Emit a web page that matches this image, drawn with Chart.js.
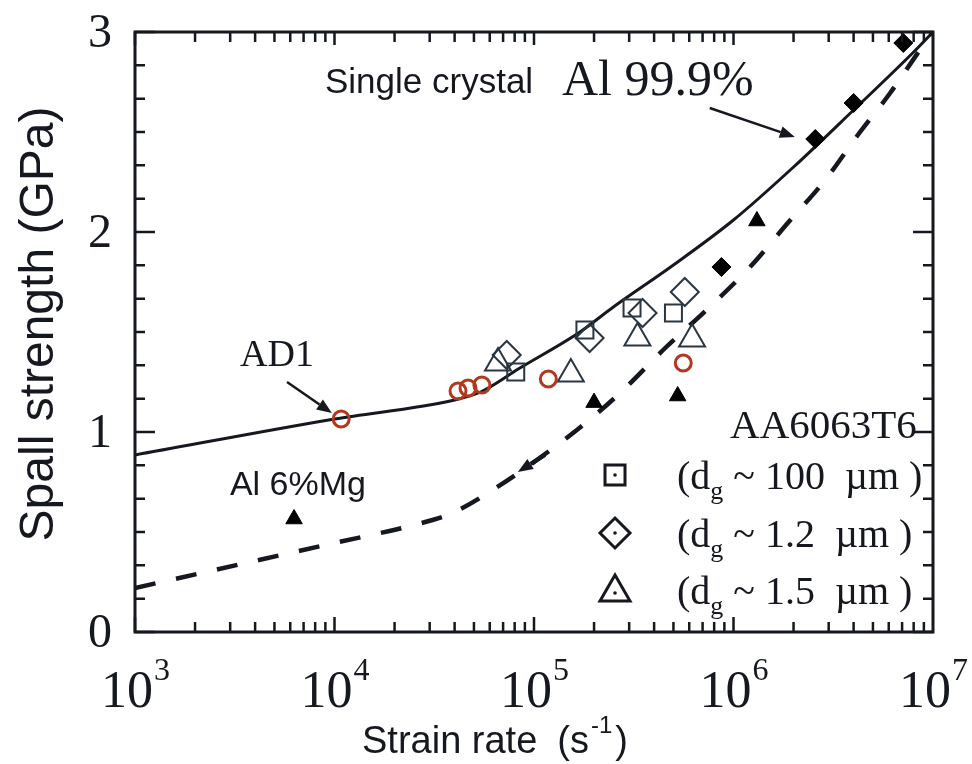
<!DOCTYPE html>
<html>
<head>
<meta charset="utf-8">
<script src="https://cdn.jsdelivr.net/npm/chart.js@4.4.0/dist/chart.umd.min.js"></script>
<style>
  body { margin: 0; background: #fff; }
  canvas { display: block; }
</style>
</head>
<body>
<canvas id="spallChart" width="972" height="764"></canvas>
<script>
// strain rate (1/s) and spall strength (GPa)
const ad1Rate = [1.08e4, 4.16e4, 4.67e4, 5.48e4, 1.18e5, 5.6e5];
const ad1Spall = [1.065, 1.205, 1.22, 1.235, 1.265, 1.345];

const al999Rate = [8.7e5, 2.57e6, 4.0e6, 7.1e6];
const al999Spall = [1.825, 2.465, 2.645, 2.945];

const alMgRate = [6.27e3, 2.0e5, 5.25e5, 1.31e6];
const alMgSpall = [0.565, 1.147, 1.18, 2.055];

const dg100Rate = [8.1e4, 1.8e5, 3.1e5, 5.0e5];
const dg100Spall = [1.30, 1.51, 1.62, 1.595];

const dg12Rate = [7.3e4, 1.9e5, 3.5e5, 5.7e5];
const dg12Spall = [1.385, 1.47, 1.595, 1.70];

const dg15Rate = [6.6e4, 1.53e5, 3.3e5, 6.2e5];
const dg15Spall = [1.345, 1.29, 1.47, 1.465];

// fitted curves
const singleRate = [1e3, 1e4, 4e4, 5.4e4, 8.5e4, 1.7e5, 2.5e5, 5e5, 1e6, 2e6, 4e6, 8e6, 1e7];
const singleSpall = [0.885, 1.065, 1.16, 1.2, 1.32, 1.50, 1.625, 1.835, 2.06, 2.325, 2.61, 2.9, 3.0];

const alloyRate = [1e3, 1e4, 2.5e4, 3.8e4, 6.2e4, 1.64e5, 2.7e5, 4.6e5, 7.5e5, 1.21e6, 1.87e6, 2.88e6, 4.2e6, 6.1e6, 8.6e6, 1e7];
const alloySpall = [0.22, 0.445, 0.535, 0.59, 0.71, 1.01, 1.195, 1.425, 1.62, 1.825, 2.045, 2.26, 2.485, 2.695, 2.91, 3.0];

// axes
const xMajorTicks = [1e3, 1e4, 1e5, 1e6, 1e7];
const xTickExps = ['3', '4', '5', '6', '7'];
const yMajorTicks = [0, 1, 2, 3];
const yMinorPerUnit = 6;

const legendLabels = ['100', '1.2', '1.5'];

const SERIF = '"Liberation Serif", "Times New Roman", serif';
const SANS = '"Liberation Sans", Arial, sans-serif';
const INK = '#15181f';
const OPEN = '#2a3640';
const RED = '#b03a1e';

function toPoints(xs, ys) {
    return xs.map((v, i) => ({ x: v, y: ys[i] }));
}

function drawArrow(ctx, x1, y1, x2, y2) {
    const ang = Math.atan2(y2 - y1, x2 - x1);
    const head = 15, half = 6;
    const bx = x2 - head * Math.cos(ang), by = y2 - head * Math.sin(ang);
    ctx.beginPath();
    ctx.moveTo(x1, y1);
    ctx.lineTo(bx, by);
    ctx.stroke();
    ctx.beginPath();
    ctx.moveTo(x2, y2);
    ctx.lineTo(bx + half * Math.sin(ang), by - half * Math.cos(ang));
    ctx.lineTo(bx - half * Math.sin(ang), by + half * Math.cos(ang));
    ctx.closePath();
    ctx.fill();
}

// frame, inward ticks, tick labels, titles
const axisFrame = {
    id: 'axisFrame',
    afterDraw(chart) {
        const { ctx, chartArea: a, scales: { x, y } } = chart;
        ctx.save();
        ctx.strokeStyle = INK;
        ctx.fillStyle = INK;
        ctx.lineCap = 'butt';

        ctx.lineWidth = 2.5;
        // x ticks (log decades)
        for (let d = 0; d < xMajorTicks.length - 1; d++) {
            for (let m = 1; m < 10; m++) {
                const px = x.getPixelForValue(xMajorTicks[d] * m);
                const len = m === 1 ? 15 : 10;
                ctx.beginPath();
                ctx.moveTo(px, a.bottom); ctx.lineTo(px, a.bottom - len);
                ctx.moveTo(px, a.top); ctx.lineTo(px, a.top + (m === 1 ? 13 : 10));
                ctx.stroke();
            }
        }
        // y ticks
        const yMax = yMajorTicks[yMajorTicks.length - 1];
        for (let i = 0; i <= yMax * yMinorPerUnit; i++) {
            const py = y.getPixelForValue(i / yMinorPerUnit);
            const len = i % yMinorPerUnit === 0 ? 20 : 10;
            ctx.beginPath();
            ctx.moveTo(a.left, py); ctx.lineTo(a.left + len, py);
            ctx.moveTo(a.right, py); ctx.lineTo(a.right - len, py);
            ctx.stroke();
        }

        ctx.lineWidth = 3;
        ctx.strokeRect(a.left, a.top, a.right - a.left, a.bottom - a.top);

        // x tick labels 10^n
        ctx.textBaseline = 'alphabetic';
        ctx.textAlign = 'left';
        xMajorTicks.forEach((v, i) => {
            const px = x.getPixelForValue(v);
            ctx.font = `52px ${SERIF}`;
            const w1 = ctx.measureText('10').width;
            ctx.font = `32px ${SERIF}`;
            const w2 = ctx.measureText(xTickExps[i]).width;
            const left = px - (w1 + w2) / 2;
            ctx.font = `52px ${SERIF}`;
            ctx.fillText('10', left, a.bottom + 75);
            ctx.font = `32px ${SERIF}`;
            ctx.fillText(xTickExps[i], left + w1 + 1, a.bottom + 48);
        });

        // y tick labels
        ctx.textAlign = 'right';
        ctx.font = `48px ${SERIF}`;
        yMajorTicks.forEach(v => {
            ctx.fillText(String(v), a.left - 23, y.getPixelForValue(v) + 15);
        });

        // x title
        ctx.textAlign = 'left';
        ctx.font = `38px ${SANS}`;
        let tx = a.left + 227;
        const tb = a.bottom + 121;
        ctx.fillText('Strain rate', tx, tb);
        tx += ctx.measureText('Strain rate').width + 20;
        ctx.fillText('(s', tx, tb);
        tx += ctx.measureText('(s').width + 2;
        ctx.font = `24px ${SANS}`;
        ctx.fillText('-1', tx, tb - 20);
        tx += ctx.measureText('-1').width + 3;
        ctx.font = `38px ${SANS}`;
        ctx.fillText(')', tx, tb);

        // y title
        ctx.save();
        ctx.translate(a.left - 82, (a.top + a.bottom) / 2 - 8);
        ctx.rotate(-Math.PI / 2);
        ctx.textAlign = 'center';
        ctx.font = `48px ${SANS}`;
        ctx.fillText('Spall strength (GPa)', 0, 0);
        ctx.restore();

        ctx.restore();
    }
};

// labels, arrows and the marker key
const notes = {
    id: 'notes',
    afterDraw(chart) {
        const { ctx, chartArea: a, scales: { x, y } } = chart;
        const P = (vx, vy) => [x.getPixelForValue(vx), y.getPixelForValue(vy)];
        ctx.save();
        ctx.fillStyle = INK;
        ctx.strokeStyle = INK;
        ctx.textAlign = 'left';
        ctx.textBaseline = 'alphabetic';

        let p = P(8.96e3, 2.695);
        ctx.font = `35px ${SANS}`;
        ctx.fillText('Single crystal', p[0], p[1]);
        p = P(1.38e5, 2.685);
        ctx.font = `50px ${SERIF}`;
        ctx.fillText('Al 99.9%', p[0], p[1]);
        p = P(3.36e3, 1.33);
        ctx.font = `38px ${SERIF}`;
        ctx.fillText('AD1', p[0], p[1]);
        p = P(2.99e3, 0.685);
        ctx.font = `34px ${SANS}`;
        ctx.fillText('Al 6%Mg', p[0], p[1]);
        p = P(8.3e6, 0.97);
        ctx.textAlign = 'right';
        ctx.font = `41px ${SERIF}`;
        ctx.fillText('AA6063T6', p[0], p[1]);
        ctx.textAlign = 'left';

        ctx.lineWidth = 2.5;
        let s = P(7.6e5, 2.62), e = P(2.03e6, 2.475);
        drawArrow(ctx, s[0], s[1], e[0], e[1]);
        s = P(5.78e3, 1.25); e = P(9.7e3, 1.095);
        drawArrow(ctx, s[0], s[1], e[0], e[1]);
        ctx.lineWidth = 4;
        s = P(1.135e5, 0.885); e = P(8.3e4, 0.80);
        drawArrow(ctx, s[0], s[1], e[0], e[1]);

        // key
        const mx = a.left + 480, tx = a.left + 542;
        const rows = [a.top + 443, a.top + 501, a.top + 558];
        ctx.lineWidth = 3;
        rows.forEach((my, i) => {
            ctx.beginPath();
            if (i === 0) {
                ctx.rect(mx - 10, my - 10, 20, 20);
            } else if (i === 1) {
                ctx.moveTo(mx, my - 15); ctx.lineTo(mx + 15, my);
                ctx.lineTo(mx, my + 15); ctx.lineTo(mx - 15, my);
                ctx.closePath();
            } else {
                ctx.moveTo(mx, my - 15); ctx.lineTo(mx + 15, my + 11);
                ctx.lineTo(mx - 15, my + 11);
                ctx.closePath();
            }
            ctx.stroke();
            ctx.beginPath();
            ctx.arc(mx, i === 2 ? my + 3 : my, 1.8, 0, Math.PI * 2);
            ctx.fill();

            const base = my + 14;
            let cx = tx;
            ctx.font = `40px ${SERIF}`;
            ctx.fillText('(d', cx, base);
            cx += ctx.measureText('(d').width;
            ctx.font = `26px ${SERIF}`;
            ctx.fillText('g', cx, base + 10);
            cx += ctx.measureText('g').width;
            ctx.font = `40px ${SERIF}`;
            ctx.fillText(' ~ ' + legendLabels[i] + '  \u00b5m )', cx, base);
        });
        ctx.restore();
    }
};

const openStyle = { backgroundColor: 'rgba(0,0,0,0)', borderColor: OPEN, borderWidth: 2 };

new Chart(document.getElementById('spallChart'), {
    type: 'scatter',
    data: {
        datasets: [
            {
                label: 'Single crystal fit', data: toPoints(singleRate, singleSpall),
                showLine: true, pointRadius: 0, borderColor: INK, borderWidth: 3,
                cubicInterpolationMode: 'monotone', order: 3
            },
            {
                label: 'Al 6%Mg fit', data: toPoints(alloyRate, alloySpall),
                showLine: true, pointRadius: 0, borderColor: INK, borderWidth: 4.5,
                borderDash: [21, 21], cubicInterpolationMode: 'monotone', order: 3
            },
            {
                label: 'AD1', data: toPoints(ad1Rate, ad1Spall), pointStyle: 'circle',
                pointRadius: 8, borderWidth: 3, borderColor: RED, backgroundColor: 'rgba(0,0,0,0)', order: 1
            },
            {
                label: 'Al 99.9%', data: toPoints(al999Rate, al999Spall), pointStyle: 'rectRot',
                pointRadius: 9.5, borderWidth: 1, borderColor: '#000', backgroundColor: '#000', order: 1
            },
            {
                label: 'Al 6%Mg', data: toPoints(alMgRate, alMgSpall), pointStyle: 'triangle',
                pointRadius: 9.5, borderWidth: 1, borderColor: '#000', backgroundColor: '#000', order: 1
            },
            Object.assign({ label: 'dg 100', data: toPoints(dg100Rate, dg100Spall), pointStyle: 'rect', pointRadius: 12, order: 2 }, openStyle),
            Object.assign({ label: 'dg 1.2', data: toPoints(dg12Rate, dg12Spall), pointStyle: 'rectRot', pointRadius: 14, order: 2 }, openStyle),
            Object.assign({ label: 'dg 1.5', data: toPoints(dg15Rate, dg15Spall), pointStyle: 'triangle', pointRadius: 15, order: 2 }, openStyle)
        ]
    },
    options: {
        responsive: false,
        animation: false,
        layout: { padding: { left: 135, right: 39, top: 32, bottom: 132 } },
        plugins: { legend: { display: false }, tooltip: { enabled: false } },
        scales: {
            x: { type: 'logarithmic', min: 1e3, max: 1e7, display: false },
            y: { type: 'linear', min: 0, max: 3, display: false }
        }
    },
    plugins: [axisFrame, notes]
});
</script>
</body>
</html>
